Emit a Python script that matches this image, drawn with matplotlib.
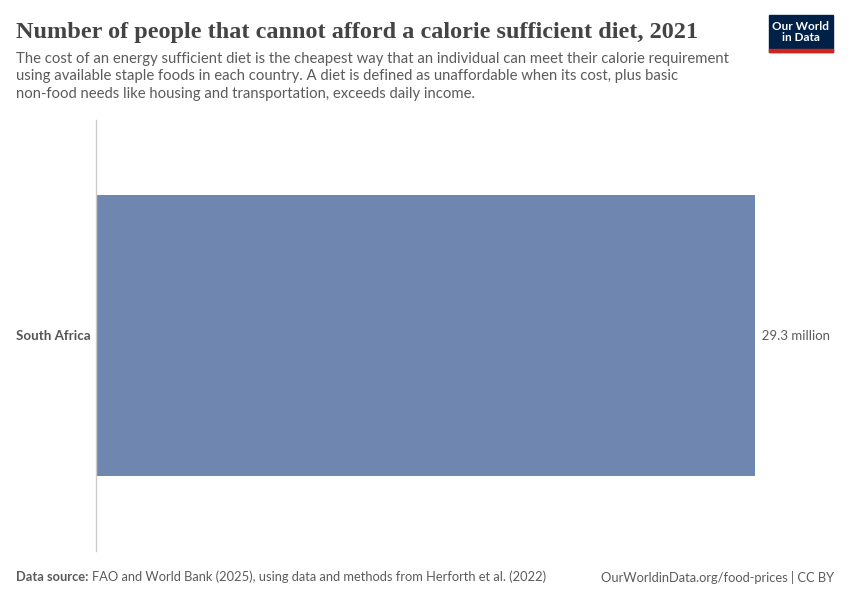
import matplotlib.pyplot as plt
from matplotlib.patches import Rectangle

countries = ['South Africa']
values = [29.3]  # million people
value_labels = ['29.3 million']

title = 'Number of people that cannot afford a calorie sufficient diet, 2021'
subtitle = ('The cost of an energy sufficient diet is the cheapest way that an individual can meet their calorie requirement\n'
            'using available staple foods in each country. A diet is defined as unaffordable when its cost, plus basic\n'
            'non-food needs like housing and transportation, exceeds daily income.')

plt.rcParams['font.family'] = ['Lato', 'DejaVu Sans']

fig = plt.figure(figsize=(8.5, 6), dpi=100)
W, H = 850, 600

ax = fig.add_axes([96 / W, 49 / H, (755 - 96) / W, 431 / H])
ax.barh(countries, values, height=0.652, color='#6f87b0')
ax.set_xlim(0, max(values))
ax.set_ylim(-0.5, 0.5)
for s in ['top', 'right', 'bottom']:
    ax.spines[s].set_visible(False)
ax.spines['left'].set_color('#cccccc')
ax.spines['left'].set_linewidth(1)
ax.set_xticks([])
ax.tick_params(axis='y', length=0, pad=4)
for lbl in ax.get_yticklabels():
    lbl.set_fontweight('bold')
    lbl.set_fontsize(9.6)
    lbl.set_color('#555555')
for i, v in enumerate(values):
    ax.text(v, i, '  ' + value_labels[i], va='center', ha='left',
            fontsize=9.5, color='#5b5b5b', clip_on=False)

# title and subtitle
fig.text(16 / W, 1 - 38 / H, title, fontsize=17.5, family='Liberation Serif',
         fontweight='bold', color='#444444', va='baseline')
fig.text(16 / W, 1 - 52 / H, subtitle, fontsize=10.7, color='#5b5b5b',
         va='top', linespacing=1.3)

# logo
fig.patches.append(Rectangle((769 / W, 1 - 52 / H), 64 / W, 37 / H,
                             transform=fig.transFigure, color='#002147'))
fig.patches.append(Rectangle((769 / W, 1 - 52 / H), 64 / W, 3 / H,
                             transform=fig.transFigure, color='#ce261e'))
fig.text(801 / W, 1 - 32 / H, 'Our World\nin Data', ha='center', va='center',
         fontsize=8.5, fontweight='bold', color='white', linespacing=1.0)

# footer
fig.text(16 / W, 1 - 577 / H, 'Data source:', fontsize=9.3, fontweight='bold',
         color='#5b5b5b', va='center')
fig.text(92 / W, 1 - 577 / H, 'FAO and World Bank (2025), using data and methods from Herforth et al. (2022)',
         fontsize=9.3, color='#5b5b5b', va='center')
fig.text(834 / W, 1 - 577 / H, 'OurWorldinData.org/food-prices | CC BY', fontsize=9.3,
         color='#5b5b5b', va='center', ha='right')

fig.savefig('out.png', dpi=100)
